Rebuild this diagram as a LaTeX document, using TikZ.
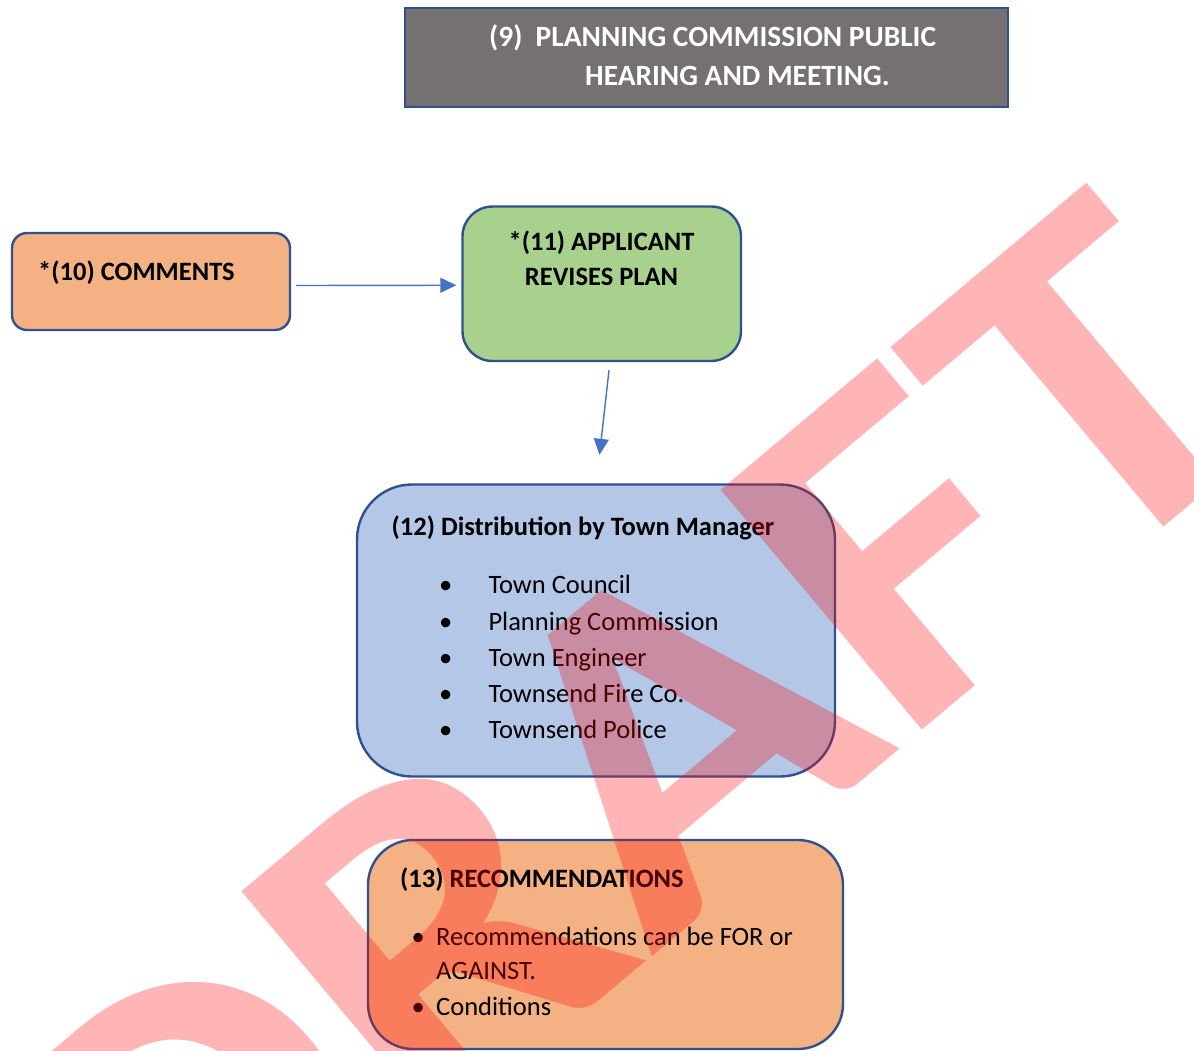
\documentclass[tikz,border=0pt]{standalone}
\usepackage{fontspec}
\setmainfont{Carlito}
\usetikzlibrary{arrows.meta}
\definecolor{bord}{HTML}{2F528F}
\definecolor{gray9}{HTML}{767171}
\definecolor{orangebox}{HTML}{F4B183}
\definecolor{greenbox}{HTML}{A9D18E}
\definecolor{bluebox}{HTML}{B4C7E7}
\definecolor{arrowblue}{HTML}{4472C4}
\definecolor{wmred}{HTML}{FF0000}
\begin{document}
\begin{tikzpicture}[x=1pt,y=-1pt,
  box/.style={draw=bord, line width=2.4pt, inner sep=0pt, rectangle},
  lbl/.style={inner sep=0pt, anchor=base west, font=\fontsize{26.5}{32}\selectfont},
  blbl/.style={inner sep=0pt, anchor=base west, font=\fontsize{26.5}{32}\selectfont\bfseries},
  clbl/.style={inner sep=0pt, anchor=base, font=\fontsize{26.5}{32}\selectfont\bfseries},
  hdr/.style={inner sep=0pt, anchor=base west, text=white, font=\fontsize{29.4}{34}\selectfont\bfseries},
  bul/.style={inner sep=0pt, anchor=base, font=\fontsize{26.5}{32}\selectfont},
  arr/.style={draw=arrowblue, line width=1.4pt, -{Triangle[length=16pt,width=15pt]}}
]
\useasboundingbox (0,0) rectangle (1194,1051);
\fill[white] (0,0) rectangle (1194,1051);

% boxes
\node[box, fill=gray9, minimum width=603pt, minimum height=99pt] (b9) at (706.5,57.5) {};
\node[box, fill=orangebox, rounded corners=15pt, minimum width=278pt, minimum height=97pt] (b10) at (151,281.5) {};
\node[box, fill=greenbox, rounded corners=30pt, minimum width=278.5pt, minimum height=154.5pt] (b11) at (601.75,283.75) {};
\node[box, fill=bluebox, rounded corners=55pt, minimum width=478pt, minimum height=292pt] (b12) at (596,630.5) {};
\node[box, fill=orangebox, rounded corners=45pt, minimum width=475pt, minimum height=209pt] (b13) at (605.5,944.5) {};

% texts
\node[hdr] (t9a) at (489,47) {(9)\ \ PLANNING COMMISSION PUBLIC};
\node[hdr] (t9b) at (585,86) {HEARING AND MEETING.};

\node[blbl] (t10) at (38,280) {*(10) COMMENTS};

\node[clbl] (t11a) at (601.5,251) {*(11) APPLICANT};
\node[clbl] (t11b) at (601.5,285) {REVISES PLAN};

\node[blbl] (t12) at (391.5,535) {(12) Distribution by Town Manager};
\node[bul] (p1) at (445.7,593) {•};
\node[bul] (p2) at (445.7,630) {•};
\node[bul] (p3) at (445.7,666) {•};
\node[bul] (p4) at (445.7,702.3) {•};
\node[bul] (p5) at (445.7,738.7) {•};
\node[lbl] (i1) at (488.3,593) {Town Council};
\node[lbl] (i2) at (488.3,630) {Planning Commission};
\node[lbl] (i3) at (488.3,666) {Town Engineer};
\node[lbl] (i4) at (488.3,702.3) {Townsend Fire Co.};
\node[lbl] (i5) at (488.3,738.7) {Townsend Police};

\node[blbl] (t13) at (400,887.3) {(13) RECOMMENDATIONS};
\node[bul] (q1) at (418.3,945) {•};
\node[bul] (q2) at (418.3,1015.7) {•};
\node[lbl] (r1) at (436,945) {Recommendations can be FOR or};
\node[lbl] (r2) at (436,979.3) {AGAINST.};
\node[lbl] (r3) at (436,1015.7) {Conditions};

% connectors
\draw[arr] ([shift={(5,4)}]b10.east) -- ([shift={(-5,1.5)}]b11.west);
\draw[arr] ([shift={(7.25,8)}]b11.south) -- ([shift={(3.5,-28.5)}]b12.north);

% watermark
\begin{scope}
\clip (0,0) rectangle (1194,1051);
\node[rotate=40, xscale=1.11, anchor=base west, inner sep=0pt, text=wmred, text opacity=0.29,
      font=\fontsize{483}{483}\selectfont\bfseries] (wm) at (161,1369) {DRAFT};
\end{scope}
\end{tikzpicture}
\end{document}
